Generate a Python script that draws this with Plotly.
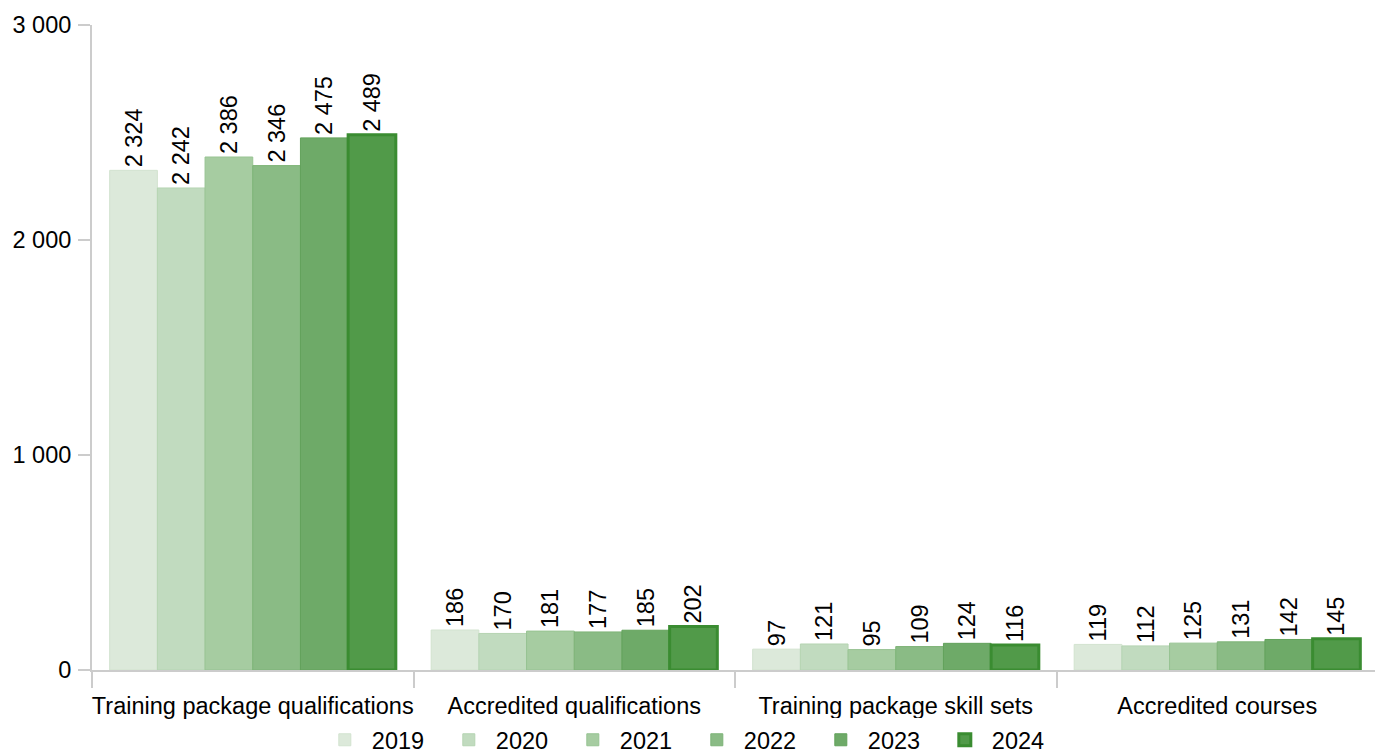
import plotly.graph_objects as go

categories = ["Training package qualifications", "Accredited qualifications",
              "Training package skill sets", "Accredited courses"]
years = ["2019", "2020", "2021", "2022", "2023", "2024"]
values = {
    "2019": [2324, 186, 97, 119],
    "2020": [2242, 170, 121, 112],
    "2021": [2386, 181, 95, 125],
    "2022": [2346, 177, 109, 131],
    "2023": [2475, 185, 124, 142],
    "2024": [2489, 202, 116, 145],
}
fill_colors = ["#dce9da", "#c1dbbf", "#a6cca1", "#8abb85", "#6eaa68", "#519a49"]
line_colors = ["#d2e3cf", "#b5d4b2", "#97c392", "#7db377", "#62a25b", "#3a8c31"]
line_widths = [1, 1, 1, 1, 1, 3]

font = "Liberation Sans, Arial, sans-serif"
fs = 23.5
fig = go.Figure()
for i, y in enumerate(years):
    fig.add_trace(go.Bar(
        name=y, x=categories, y=values[y],
        marker=dict(color=fill_colors[i], line=dict(color=line_colors[i], width=line_widths[i])),
        texttemplate="%{y:,}", textposition="outside", textangle=-90,
        textfont=dict(size=fs, color="#000", family=font),
        constraintext="none", cliponaxis=False,
    ))

fig.update_layout(
    width=1383, height=754,
    barmode="group", bargap=0.11, bargroupgap=0,
    separators=". ",
    plot_bgcolor="white", paper_bgcolor="white",
    margin=dict(l=84, r=13, t=17, b=92, autoexpand=False),
    font=dict(family=font, size=fs, color="#000"),
    legend=dict(orientation="h", xref="container", x=0.493, xanchor="center",
                yref="container", y=0.0, yanchor="bottom",
                font=dict(size=fs), itemwidth=44, entrywidth=65, entrywidthmode="pixels",
                traceorder="normal"),
    showlegend=True,
)
fig.update_xaxes(showline=True, linecolor="#cccccc", linewidth=2,
                 ticks="outside", tickson="boundaries", ticklen=16, tickcolor="#cccccc", tickwidth=2,
                 tickangle=0, ticklabelstandoff=14, tickfont=dict(size=fs), automargin=False)
fig.update_yaxes(range=[0, 3000], tickvals=[0, 1000, 2000, 3000], tickformat=",",
                 showline=True, linecolor="#cccccc", linewidth=2, showgrid=False, zeroline=False,
                 ticks="outside", ticklen=12, tickcolor="#cccccc", tickwidth=2,
                 ticklabelstandoff=2, tickfont=dict(size=fs), automargin=False)

fig.write_html("out.html")
